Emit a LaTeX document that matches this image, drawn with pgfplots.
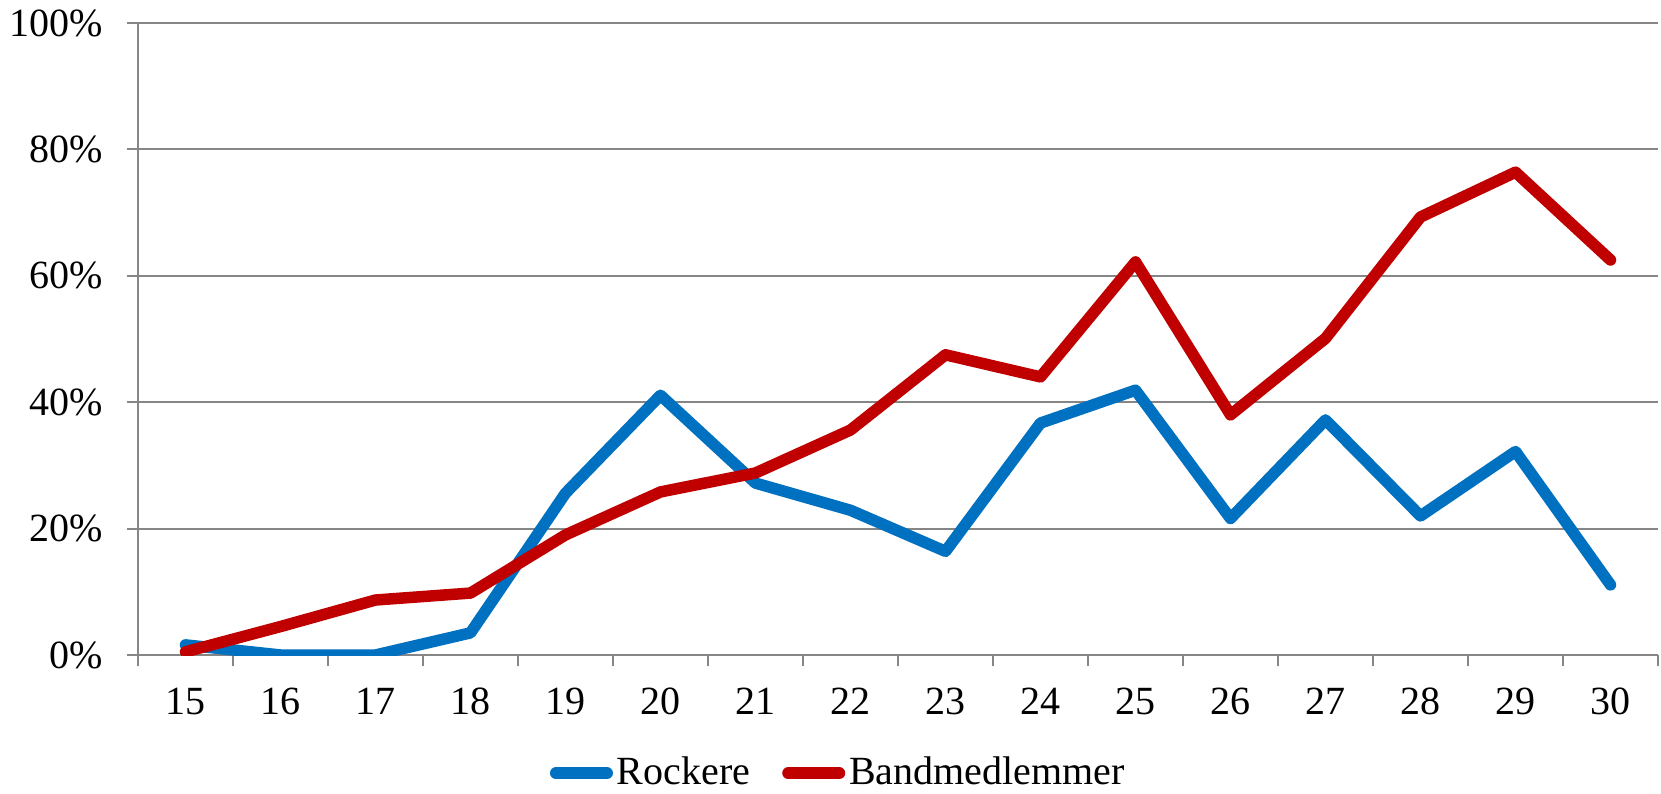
\documentclass[border=0pt]{standalone}
\usepackage{fontspec}
\setmainfont{Liberation Serif}
\usepackage{pgfplots}
\pgfplotsset{compat=1.18}
\definecolor{rblue}{HTML}{0070C0}
\definecolor{bred}{HTML}{C00000}
\definecolor{gline}{HTML}{868686}
\begin{document}
\fontsize{20}{24}\selectfont
\begin{tikzpicture}
\begin{axis}[
  name=ax,
  scale only axis,
  width=760pt, height=316pt,
  xmin=14.5, xmax=30.5,
  ymin=0, ymax=100,
  axis x line=bottom, axis y line=left,
  axis line style={-, gline, line width=1pt},
  /pgf/number format/assume math mode=true,
  xtick={15,...,30},
  major x tick style={draw=none},
  minor xtick={14.5,15.5,...,30.5},
  minor x tick style={gline, line width=1pt},
  minor tick length=5.5pt,
  ytick={0,20,...,100},
  yticklabel={\pgfmathprintnumber{\tick}\%},
  major y tick style={gline, line width=1pt},
  major tick length=5.5pt,
  tick align=outside,
  ymajorgrids,
  grid style={gline, line width=1pt},
  tick label style={font=\fontsize{20}{24}\selectfont},
  xticklabel style={yshift=-4.3pt},
  yticklabel style={xshift=-5pt},
  legend style={at={(0.4614,-0.187)}, anchor=center, draw=none,
    font=\fontsize{20}{24}\selectfont, inner sep=0pt,
    /tikz/every even column/.append style={column sep=14pt}},
  legend columns=2,
  legend image code/.code={\draw[#1, line width=6pt, line cap=round] (3pt,0pt)--(28.5pt,0pt);},
  every axis plot/.append style={line width=5.75pt, line cap=round, line join=round},
]
\addplot[rblue] coordinates {
 (15,1.6) (16,0) (17,0) (18,3.5) (19,25.6) (20,41.1) (21,27.2) (22,22.9)
 (23,16.4) (24,36.7) (25,41.9) (26,21.6) (27,37.2) (28,22.0) (29,32.2) (30,11.1)
};
\addlegendentry{Rockere}
\addplot[bred] coordinates {
 (15,0.5) (16,4.5) (17,8.7) (18,9.8) (19,19.0) (20,25.8) (21,28.8) (22,35.6)
 (23,47.5) (24,44.0) (25,62.2) (26,38.0) (27,50.1) (28,69.3) (29,76.4) (30,62.5)
};
\addlegendentry{Bandmedlemmer}
\end{axis}
\pgfresetboundingbox
\useasboundingbox ([xshift=-69pt,yshift=-69pt]ax.south west) rectangle ([xshift=1.5pt,yshift=11.5pt]ax.north east);
\end{tikzpicture}
\end{document}
